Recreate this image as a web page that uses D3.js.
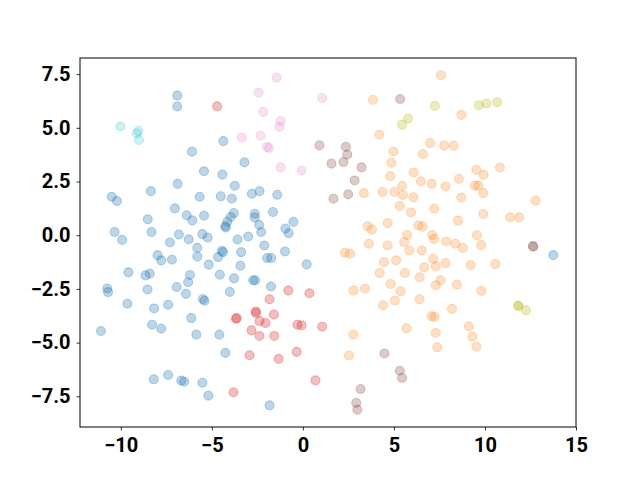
<!DOCTYPE html>
<html>
<head>
<meta charset="utf-8">
<script src="https://d3js.org/d3.v7.min.js"></script>
<style>
  body { margin: 0; background: #fff; }
</style>
</head>
<body>
<div id="chart"></div>
<script>
// cluster points, [x, y]
const blue = [
  [-6.90,6.50],[-6.90,5.99],[-6.09,3.89],[-5.43,2.98],[-6.88,2.39],[-8.35,2.05],[-10.50,1.79],[-10.21,1.59],
  [-5.67,1.79],[-7.03,1.25],[-6.38,0.93],[-6.07,0.69],[-8.52,0.74],[-5.43,0.91],[-10.34,0.15],[-8.31,0.15],
  [-6.81,0.03],[-9.93,-0.22],[-7.30,-0.34],[-6.27,-0.19],[-5.52,0.05],
  [-5.80,-0.59],[-5.80,-1.00],[-7.98,-0.93],[-7.78,-1.17],[-7.19,-1.14],[-9.58,-1.73],[-8.64,-1.87],[-8.41,-1.79],
  [-6.20,-1.85],[-6.30,-2.19],[-10.74,-2.48],[-10.70,-2.65],[-8.53,-2.53],[-6.93,-2.41],[-6.42,-2.73],[-5.49,-2.97],
  [-5.40,-3.05],[-9.64,-3.19],[-8.17,-3.41],[-7.40,-3.24],[-6.13,-3.86],[-11.09,-4.46],[-8.28,-4.17],[-7.78,-4.35],
  [-5.85,-4.63],[-8.19,-6.71],[-7.40,-6.51],[-6.68,-6.77],[-6.52,-6.82],[-5.52,-6.87],
  [-4.37,4.38],[-3.21,3.39],[-4.42,2.82],[-3.74,2.30],[-4.51,1.81],[-3.90,1.70],[-2.80,1.93],[-2.38,2.05],
  [-1.41,1.88],[-3.79,1.03],[-3.96,0.85],[-4.14,0.63],[-4.26,0.43],[-4.23,0.36],[-2.64,1.00],[-2.64,0.82],
  [-2.40,0.48],[-2.29,0.15],[-1.64,1.08],[-0.52,0.62],[-0.96,0.31],[-0.78,0.09],[-5.23,-0.11],[-3.59,-0.20],
  [-3.00,-0.06],
  [-2.12,-0.48],[-4.45,-0.73],[-4.38,-0.79],[-4.66,-1.02],[-3.39,-0.79],[-0.98,-0.76],[-5.17,-1.37],[-3.43,-1.42],
  [-1.96,-1.06],[-1.74,-1.06],[0.21,-1.36],[-4.56,-1.84],[-3.78,-2.01],[-2.73,-2.10],[-2.62,-2.10],[-1.75,-2.39],
  [-4.01,-2.64],[-4.59,-4.63],[-4.26,-5.48],[-5.19,-7.47],[-1.83,-7.92],
  [13.75,-0.93]
];
const orange = [
  [7.58,7.45],[3.85,6.30],[4.20,4.68],[4.97,3.90],[6.99,4.29],[7.76,4.17],[6.59,3.78],[4.86,3.37],[6.09,2.92],
  [4.79,2.75],[6.48,2.51],[7.07,2.39],[7.84,2.27],[5.45,2.30],[3.35,1.96],[4.37,2.02],[5.03,2.02],[5.50,1.87],
  [6.07,1.76],[5.32,1.36],[5.94,1.06],[7.21,1.24],[4.66,0.56],[3.56,0.42],[3.79,0.26],[6.35,0.45],[6.57,0.40],
  [5.72,0.01],[7.10,0.01],[7.21,-0.17],
  [2.30,-0.82],[2.58,-0.86],[3.63,-0.40],[4.66,-0.48],[5.56,-0.32],[5.85,-0.71],[6.53,-0.71],[7.87,-0.29],
  [7.16,-1.10],[7.30,-1.45],[7.84,-1.30],[4.46,-1.25],[5.12,-1.17],[4.22,-1.76],[5.60,-1.76],[6.66,-1.50],
  [6.42,-1.96],[7.56,-2.10],[7.30,-2.33],[4.82,-2.27],[5.37,-2.61],[2.78,-2.58],[3.41,-2.49],[5.06,-3.04],
  [6.41,-2.99],[4.40,-3.26],[7.07,-3.77],[7.23,-3.80],[8.19,-3.43],[5.69,-4.34],[7.30,-4.55],[7.38,-5.22],
  [2.77,-4.63],[2.53,-5.60],
  [8.70,5.60],[8.28,4.17],[9.53,3.04],[9.93,2.81],[10.82,3.15],[8.57,2.62],[9.45,2.31],[9.64,2.31],[9.91,1.96],
  [8.70,1.75],[12.78,1.61],[9.91,0.99],[11.38,0.83],[11.88,0.83],[8.52,0.68],[9.56,-0.01],
  [8.37,-0.40],[8.78,-0.59],[9.80,-0.46],[9.22,-1.39],[10.57,-1.34],[8.46,-2.30],[9.80,-2.59],[9.11,-4.24],
  [9.31,-4.72],[9.53,-5.19]
];
const red = [
  [-4.71,6.00],[-0.80,-2.58],[0.36,-2.70],[-1.83,-2.98],[-2.58,-3.55],[-2.58,-3.62],[-3.68,-3.89],[-3.63,-3.86],
  [-1.59,-3.70],[-2.38,-4.00],[-2.05,-4.09],[-2.82,-4.43],[-2.38,-4.69],[-1.57,-4.69],[-0.30,-4.17],[-0.07,-4.20],
  [1.06,-4.26],[-2.93,-5.59],[-1.33,-5.76],[-0.34,-5.43],[0.69,-6.76],[-3.81,-7.31]
];
const brown = [
  [0.91,4.18],[5.34,6.34],[2.36,4.11],[2.44,3.75],[1.57,3.33],[2.23,3.41],[3.22,3.16],[2.84,2.55],[2.49,1.90],
  [1.68,1.70],[4.48,-5.51],[5.32,-6.31],[5.45,-6.64],[3.17,-7.16],[2.93,-7.81],[2.99,-8.12],[12.63,-0.51],[12.66,-0.53]
];
const pink = [
  [-1.44,7.33],[-2.44,6.63],[1.06,6.39],[-2.18,5.74],[-1.22,5.31],[-1.28,5.05],[-3.35,4.55],[-2.33,4.63],
  [-1.97,4.11],[-1.86,4.06],[-1.22,3.16],[-0.07,3.01]
];
const olive = [
  [7.25,6.02],[5.78,5.43],[5.45,5.15],[9.66,6.05],[10.08,6.13],[10.67,6.19],[11.85,-3.30],[11.82,-3.28],[12.25,-3.50]
];
const cyan = [[-10.02,5.06],[-9.03,4.86],[-9.12,4.74],[-9.00,4.43]];

const xTicks = [-10, -5, 0, 5, 10, 15];
const yTicks = [-7.5, -5.0, -2.5, 0.0, 2.5, 5.0, 7.5];

const groups = [
  {pts: blue, color: "#1f77b4", a: 0.3},
  {pts: orange, color: "#ff7f0e", a: 0.24},
  {pts: red, color: "#d62728", a: 0.3},
  {pts: brown, color: "#8c564b", a: 0.3},
  {pts: pink, color: "#e377c2", a: 0.22},
  {pts: olive, color: "#bcbd22", a: 0.3},
  {pts: cyan, color: "#17becf", a: 0.22}
];

const W = 640, H = 480;
const margin = {top: 58, right: 64, bottom: 53, left: 80};
const width = W - margin.left - margin.right,
      height = H - margin.top - margin.bottom;

const svg = d3.select("#chart").append("svg")
    .attr("width", W).attr("height", H)
  .append("g")
    .attr("transform", `translate(${margin.left},${margin.top})`);

const x = d3.scaleLinear().domain([-12.24, 15]).range([0, width]);
const y = d3.scaleLinear().domain([-8.93, 8.25]).range([height, 0]);

groups.forEach(g => {
  svg.append("g").selectAll("circle")
    .data(g.pts)
    .join("circle")
    .attr("cx", d => x(d[0]))
    .attr("cy", d => y(d[1]))
    .attr("r", 4.5)
    .attr("fill", g.color)
    .attr("fill-opacity", g.a)
    .attr("stroke", g.color)
    .attr("stroke-opacity", g.a)
    .attr("stroke-width", 1.1);
});

svg.append("g")
    .attr("transform", `translate(0,${height})`)
    .call(d3.axisBottom(x).tickValues(xTicks).tickFormat(d3.format("d")).tickSize(3.5).tickPadding(7))
    .call(g => g.select(".domain").remove());

svg.append("g")
    .call(d3.axisLeft(y).tickValues(yTicks).tickFormat(d3.format(".1f")).tickSize(3.5).tickPadding(6))
    .call(g => g.select(".domain").remove());

svg.selectAll(".tick line").attr("stroke", "#000").attr("stroke-width", 0.8);
svg.selectAll(".tick text")
    .attr("fill", "#000")
    .attr("font-family", "Roboto, 'DejaVu Sans', sans-serif")
    .attr("font-weight", "bold")
    .attr("font-size", 20);

svg.append("rect")
    .attr("width", width).attr("height", height)
    .attr("fill", "none").attr("stroke", "#000").attr("stroke-width", 1);
</script>
</body>
</html>
